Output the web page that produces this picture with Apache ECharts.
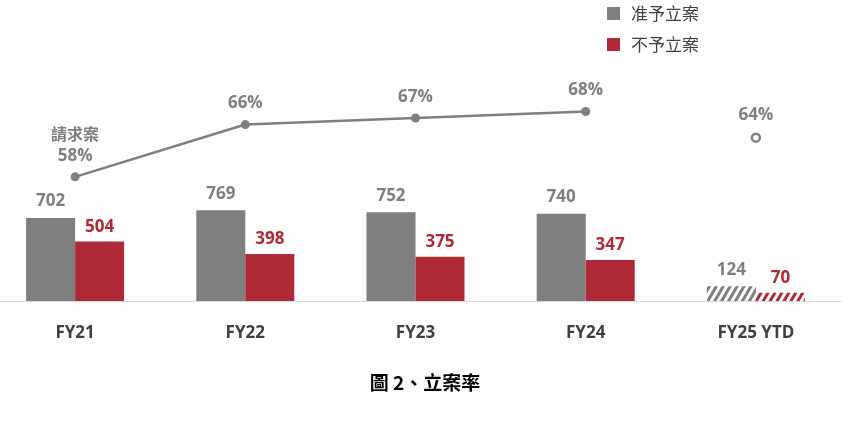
<!DOCTYPE html>
<html><head><meta charset="utf-8">
<script src="https://cdn.jsdelivr.net/npm/echarts@6/dist/echarts.min.js"></script>
<style>html,body{margin:0;padding:0;background:#fff}#c{width:866px;height:422px}</style>
</head><body><div id="c"></div>
<script>
const categories = ['FY21','FY22','FY23','FY24','FY25 YTD'];
const approved = [702, 769, 752, 740, 124];
const rejected = [504, 398, 375, 347, 70];
const rate = [58, 66, 67, 68, 64];
const ytdIndex = 4;
const GRAY = '#7f7f7f', RED = '#ae2a36';
const FONT = '"Open Sans","Noto Sans CJK TC",sans-serif';

function hatch(color){
  return {color:'#fff', decal:{symbol:'rect', color:color, dashArrayX:[1,0], dashArrayY:[2.5,3], rotation:-Math.PI/3, symbolSize:1}};
}
const approvedData = approved.map((v,i)=> i===ytdIndex ? {value:v, itemStyle:hatch(GRAY)} : v);
const rejectedData = rejected.map((v,i)=> i===ytdIndex ? {value:v, itemStyle:hatch(RED)} : v);
const lineData = rate.map((v,i)=> i===ytdIndex ? null : v);
const ytdData = rate.map((v,i)=> i===ytdIndex ? v : null);

const chart = echarts.init(document.getElementById('c'));
chart.setOption({
  animation:false,
  title:{text:'圖 2、立案率', left:420, top:368, textAlign:'center',
    textStyle:{fontSize:19, fontWeight:'bold', color:'#000', fontFamily:'"Noto Sans CJK TC",sans-serif'}},
  legend:{orient:'vertical', left:602, top:0, itemWidth:13, itemHeight:13, itemGap:14,
    icon:'rect', data:['准予立案','不予立案'],
    textStyle:{fontSize:17, color:'#404040', fontFamily:'"Noto Sans CJK TC",sans-serif', padding:[0,0,0,6]}},
  grid:{left:-10, right:25, top:20, bottom:121, containLabel:false, outerBoundsMode:'none'},
  xAxis:{type:'category', data:categories,
    axisLine:{lineStyle:{color:'#d9d9d9', width:1}}, axisTick:{show:false},
    axisLabel:{margin:24, fontSize:17, fontWeight:'bold', color:'#404040', fontFamily:FONT}},
  yAxis:[
    {type:'value', min:0, max:2380, show:false, splitLine:{show:false}},
    {type:'value', min:39, max:82, show:false, splitLine:{show:false}}
  ],
  series:[
    {name:'准予立案', type:'bar', data:approvedData, barWidth:49, barGap:'0%', itemStyle:{color:GRAY},
      label:{show:true, position:'top', distance:8, fontSize:17, fontWeight:'bold', color:GRAY, fontFamily:FONT}},
    {name:'不予立案', type:'bar', data:rejectedData, barWidth:49, itemStyle:{color:RED},
      label:{show:true, position:'top', distance:6, fontSize:17, fontWeight:'bold', color:RED, fontFamily:FONT}},
    {name:'請求案', type:'line', yAxisIndex:1, data:lineData, symbol:'circle', symbolSize:9,
      lineStyle:{color:GRAY, width:2.5}, itemStyle:{color:GRAY},
      label:{show:true, position:'top', distance:8, fontSize:17, fontWeight:'bold', color:GRAY, fontFamily:FONT,
        formatter:p=> p.dataIndex===0 ? '{t|請求案}\n'+p.value+'%' : p.value+'%',
        rich:{t:{fontSize:16, fontWeight:'bold', color:GRAY, fontFamily:'"Noto Sans CJK TC",sans-serif', lineHeight:26}}}},
    {name:'YTD', type:'line', yAxisIndex:1, data:ytdData, symbol:'circle', symbolSize:8,
      lineStyle:{opacity:0}, itemStyle:{color:'#fff', borderColor:GRAY, borderWidth:2.5},
      label:{show:true, position:'top', distance:9, fontSize:17, fontWeight:'bold', color:GRAY, fontFamily:FONT, formatter:'{c}%'}}
  ]
});
</script></body></html>
